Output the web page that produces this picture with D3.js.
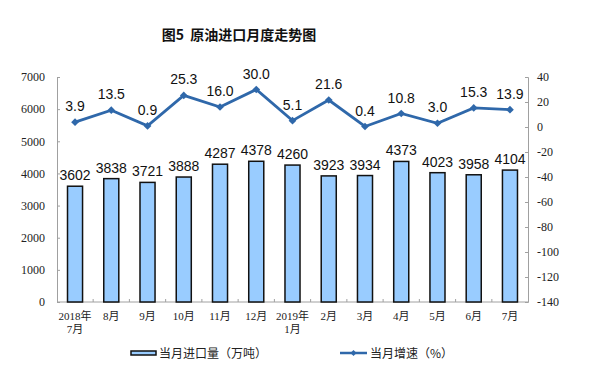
<!DOCTYPE html>
<html><head><meta charset="utf-8">
<script src="https://cdn.jsdelivr.net/npm/d3@7"></script>
<style>body{margin:0;background:#fff}svg{display:block}</style>
</head><body>
<script>
const categories = ["2018年\n7月","8月","9月","10月","11月","12月","2019年\n1月","2月","3月","4月","5月","6月","7月"];
const imports = [3602,3838,3721,3888,4287,4378,4260,3923,3934,4373,4023,3958,4104];
const growth = [3.9,13.5,0.9,25.3,16.0,30.0,5.1,21.6,0.4,10.8,3.0,15.3,13.9];
const leftTicks = [0,1000,2000,3000,4000,5000,6000,7000];
const rightTicks = [-140,-120,-100,-80,-60,-40,-20,0,20,40];

const W=599,H=384;
const svg=d3.select("body").append("svg").attr("width",W).attr("height",H);
const L=57,R=528,T=77,B=302;
const x=d3.scaleBand().domain(categories).range([L,R]).paddingInner(0.585).paddingOuter(0.29);
const yL=d3.scaleLinear().domain([0,7000]).range([B,T]);
const yR=d3.scaleLinear().domain([-140,40]).range([B,T]);
const axisColor="#a0a0a0";

svg.append("text").attr("x",239).attr("y",40).attr("text-anchor","middle").style("white-space","pre")
  .attr("font-family","'Noto Sans CJK SC'").attr("font-weight","bold").attr("font-size",14).attr("fill","#111")
  .text("图5\u00a0 原油进口月度走势图");

// left axis
const gl=svg.append("g").attr("transform",`translate(${L},0)`)
  .call(d3.axisLeft(yL).tickValues(leftTicks).tickSize(-3).tickPadding(12).tickFormat(d3.format("d")));
const gr=svg.append("g").attr("transform",`translate(${R},0)`)
  .call(d3.axisRight(yR).tickValues(rightTicks).tickSize(-3).tickPadding(9).tickFormat(d=>String(d)));
[gl,gr].forEach(g=>{
  g.select(".domain").attr("stroke",axisColor);
  g.selectAll(".tick line").attr("stroke",axisColor);
  g.selectAll("text").attr("font-family","'Liberation Serif'").attr("font-size",12).attr("fill","#222");
});
// x axis
const gx=svg.append("g").attr("transform",`translate(0,${B})`);
gx.append("line").attr("x1",L).attr("x2",R).attr("stroke",axisColor);
const bounds=categories.map(c=>x(c)-x.step()*x.paddingInner()/2).slice(1);
gx.selectAll("line.t").data(bounds).join("line").attr("class","t")
  .attr("x1",d=>d).attr("x2",d=>d).attr("y1",0).attr("y2",-3).attr("stroke",axisColor);
gx.selectAll("text").data(categories).join("text")
  .attr("x",d=>x(d)+x.bandwidth()/2).attr("y",18)
  .attr("text-anchor","middle").attr("font-family","'Liberation Serif','Noto Sans CJK SC'").attr("font-size",11).attr("fill","#222")
  .each(function(d){
    const parts=d.split("\n");
    d3.select(this).selectAll("tspan").data(parts).join("tspan")
      .attr("x",x(d)+x.bandwidth()/2).attr("dy",(p,i)=>i?13:0).text(p=>p);
  });

// bars
svg.append("g").selectAll("rect").data(imports).join("rect")
  .attr("x",(d,i)=>x(categories[i])).attr("width",x.bandwidth())
  .attr("y",d=>yL(d)).attr("height",d=>B-yL(d))
  .attr("fill","#99ccff").attr("stroke","#111").attr("stroke-width",1.5);
svg.append("g").selectAll("text").data(imports).join("text")
  .attr("x",(d,i)=>x(categories[i])+x.bandwidth()/2).attr("y",d=>yL(d)-6)
  .attr("text-anchor","middle").attr("font-family","'Liberation Sans'").attr("font-size",14).attr("fill","#111")
  .text(d=>d);

// line
const cx=i=>x(categories[i])+x.bandwidth()/2;
const lineColor="#2f68aa";
svg.append("path").datum(growth)
  .attr("d",d3.line().x((d,i)=>cx(i)).y(d=>yR(d)))
  .attr("fill","none").attr("stroke",lineColor).attr("stroke-width",2.8);
svg.append("g").selectAll("path").data(growth).join("path")
  .attr("transform",(d,i)=>`translate(${cx(i)},${yR(d)})`)
  .attr("d",d3.symbol(d3.symbolDiamond2,38)).attr("fill",lineColor);
svg.append("g").selectAll("text").data(growth).join("text")
  .attr("x",(d,i)=>cx(i)).attr("y",d=>yR(d)-11)
  .attr("text-anchor","middle").attr("font-family","'Liberation Sans'").attr("font-size",14).attr("fill","#111")
  .text(d=>d.toFixed(1));

// legend
const lg=svg.append("g");
lg.append("rect").attr("x",131).attr("y",351).attr("width",25).attr("height",4)
  .attr("fill","#99ccff").attr("stroke","#111").attr("stroke-width",1.5);
lg.append("text").attr("x",159).attr("y",357.5).attr("font-family","'Noto Sans CJK SC'").attr("font-size",12).attr("fill","#222").text("当月进口量（万吨）");
lg.append("line").attr("x1",340).attr("x2",367).attr("y1",353).attr("y2",353).attr("stroke",lineColor).attr("stroke-width",2.5);
lg.append("path").attr("transform","translate(353.5,353)").attr("d",d3.symbol(d3.symbolDiamond2,24)).attr("fill",lineColor);
lg.append("text").attr("x",370).attr("y",357.5).attr("font-family","'Noto Sans CJK SC'").attr("font-size",12).attr("fill","#222").text("当月增速（%）");
</script>
</body></html>
